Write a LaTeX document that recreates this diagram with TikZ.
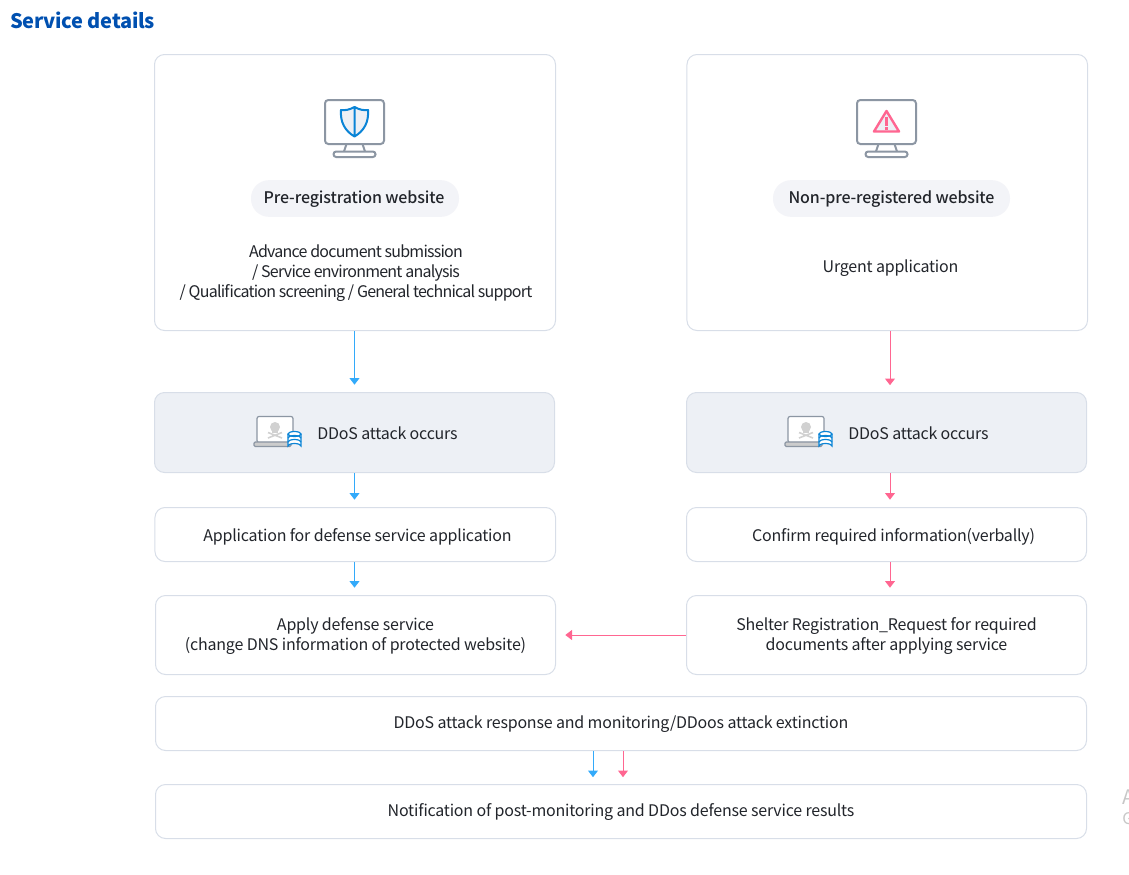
\documentclass[tikz,border=0pt]{standalone}
\usepackage{fontspec}
\setmainfont[LetterSpace=-1.3]{Noto Sans CJK KR}
\newfontfamily\tightfont[LetterSpace=-4.8]{Noto Sans CJK KR}
\newfontfamily\mediumfont[LetterSpace=-0.8]{Noto Sans CJK KR Medium}
\usetikzlibrary{arrows.meta}
\definecolor{inkcol}{RGB}{34,37,43}
\definecolor{framecol}{RGB}{216,222,232}
\definecolor{attackcol}{RGB}{237,240,245}
\definecolor{pillcol}{RGB}{243,244,248}
\definecolor{bluecol}{RGB}{51,170,250}
\definecolor{pinkcol}{RGB}{255,102,145}
\definecolor{titlecol}{RGB}{0,80,176}
\definecolor{iconcol}{RGB}{140,150,163}
\definecolor{shieldcol}{RGB}{10,132,214}
\tikzset{
  card/.style={draw=framecol,line width=0.75pt,rounded corners=7.5pt,fill=white,inner sep=0pt,text=inkcol,align=center,text depth=1pt,font=\fontsize{12}{15}\selectfont},
  attackcard/.style={card,fill=attackcol},
  pill/.style={fill=pillcol,rounded corners=13.5pt,inner sep=0pt,text=inkcol,text depth=1.5pt,font=\fontsize{12}{15}\mediumfont},
  plain/.style={inner sep=0pt,text=inkcol,align=center,font=\fontsize{12}{15}\selectfont},
  bluearrow/.style={draw=bluecol,line width=0.75pt,-{Triangle[length=5pt,width=7.5pt]},shorten >=5.5pt},
  pinkarrow/.style={draw=pinkcol,line width=0.75pt,-{Triangle[length=5pt,width=7.5pt]},shorten >=5.5pt},
  pics/monitor/.style={code={
    \draw[iconcol,line width=1.5pt,rounded corners=2.5pt] (-29.5,-22) rectangle (29.5,22);
    \draw[iconcol,line width=1.5pt] (-8,22) -- (-10.5,29.5) (8,22) -- (10.5,29.5);
    \draw[iconcol,line width=1.5pt,rounded corners=2pt,fill=white] (-21,29.5) rectangle (21,35);
  }},
  pics/laptop/.style={code={
    % screen and keyboard
    \draw[iconcol,line width=0.9pt,fill=white,rounded corners=1.5pt] (3,0) rectangle (39,26);
    \fill[black!18] (21,10.5) circle (5);
    \fill[black!18] (18,11) rectangle (24,16.5);
    \draw[black!18,line width=1.2pt] (14,16) -- (28,21.5) (28,16) -- (14,21.5);
    \draw[iconcol,line width=0.9pt,fill=black!20,rounded corners=1pt] (0,25.5) rectangle (37,30);
    % database
    \draw[shieldcol,line width=0.9pt,fill=white] (34,17.5) -- (34,29.5) arc[start angle=180,end angle=360,x radius=6.5,y radius=2.5] -- (47,17.5);
    \draw[shieldcol,line width=0.9pt,fill=white] (40.5,17.5) ellipse[x radius=6.5,y radius=2.5];
    \draw[shieldcol,line width=0.9pt] (34,21.5) arc[start angle=180,end angle=360,x radius=6.5,y radius=2.5];
    \draw[shieldcol,line width=0.9pt] (34,25.5) arc[start angle=180,end angle=360,x radius=6.5,y radius=2.5];
  }}
}
\begin{document}
\begin{tikzpicture}[x=0.75pt,y=0.75pt,yscale=-1,xscale=1]
\useasboundingbox (0,0) rectangle (1129,875);

% title
\node[anchor=west,inner sep=0pt,text=titlecol,font=\fontsize{15}{18}\bfseries] (title) at (10,20.5) {Service details};

% top cards
\node[card,minimum width=300.75pt,minimum height=207pt] (preCard) at (355,192.5) {};
\node[card,minimum width=300.4pt,minimum height=207pt] (nonCard) at (887.25,192.5) {};

\pic[yscale=-1] at (354.5,122) {monitor};
\pic[yscale=-1] at (886.5,122) {monitor};

% shield
\draw[shieldcol,line width=1.5pt,fill=attackcol,line join=round] (354.5,107) .. controls (349,110) and (345,110.5) .. (341,110) .. controls (340,122) and (345,131) .. (354.5,136.5) .. controls (364,131) and (369,122) .. (368,110) .. controls (364,110.5) and (360,110) .. (354.5,107) -- cycle (354.5,107) -- (354.5,136.5);

% warning sign
\draw[pinkcol,line width=1.8pt,fill=attackcol,line join=round] (886.5,111) -- (899,131.5) -- (874,131.5) -- cycle;
\fill[pinkcol] (885.3,117) rectangle (887.7,125.5);
\fill[pinkcol] (885.3,127) rectangle (887.7,129.5);

\node[pill,minimum width=156pt,minimum height=27.5pt] (prePill) at (355,198.5) {\kern-1.5pt Pre-registration website};
\node[pill,minimum width=177.75pt,minimum height=27.5pt] (nonPill) at (891.5,198.5) {Non-pre-registered website};

\node[plain,font=\fontsize{12}{15}\tightfont] (preText) at (356,273) {Advance document submission\\/ Service environment analysis\\/ Qualification screening / General technical support};
\node[plain] (nonText) at (890.5,268) {Urgent application};

% attack row
\node[attackcard,minimum width=300pt,minimum height=60pt] (attackL) at (354.5,432.5) {};
\node[attackcard,minimum width=300pt,minimum height=60pt] (attackR) at (886.5,432.5) {};
\pic[yscale=-1] at (254,416.5) {laptop};
\pic[yscale=-1] at (785,416.5) {laptop};
\node[plain,anchor=west] (attackLText) at (317,433) {DDoS attack occurs};
\node[plain,anchor=west] (attackRText) at (848,433) {DDoS attack occurs};

% steps
\node[card,minimum width=300.4pt,minimum height=40.5pt] (applyForm) at (355.25,534.5) {};
\node[plain] (applyFormText) at (357.5,536.5) {Application for defense service application};
\node[card,minimum width=300pt,minimum height=40.5pt] (confirmInfo) at (886.5,534.5) {};
\node[plain] (confirmInfoText) at (893.5,536.5) {Confirm required information(verbally)};
\node[card,minimum width=300pt,minimum height=59.25pt] (applyDef) at (355.5,635) {Apply defense service\\(change DNS information of protected website)};
\node[card,minimum width=300pt,minimum height=59.25pt] (shelter) at (886.5,635) {Shelter Registration\_Request for required\\documents after applying service};
\node[card,text depth=2.5pt,minimum width=698.25pt,minimum height=40.5pt] (response) at (621,723.5) {DDoS attack response and monitoring/DDoos attack extinction};
\node[card,text depth=2.5pt,minimum width=698.25pt,minimum height=40.5pt] (notice) at (621,811.5) {Notification of post-monitoring and DDos defense service results};

% cut off at the page edge
\node[anchor=west,inner sep=0pt,text=black!22,font=\fontsize{15}{18}\selectfont] (edgeA) at (1122,797) {A};
\node[anchor=west,inner sep=0pt,text=black!22,font=\fontsize{12}{15}\selectfont] (edgeG) at (1122,819) {G};

% arrows
\coordinate (blueFoot) at (593,784.5);
\coordinate (pinkFoot) at (623,784.5);
\draw[bluearrow] (preCard.south -| attackL) -- (attackL.north);
\draw[pinkarrow] (nonCard.south -| 890,0) -- (890,392.5);
\draw[bluearrow] (attackL.south) -- (attackL.south |- applyForm.north);
\draw[pinkarrow] (attackR.south -| 890,0) -- (confirmInfo.north -| 890,0);
\draw[bluearrow] (applyForm.south -| attackL) -- (applyDef.north -| attackL);
\draw[pinkarrow] (confirmInfo.south -| 890,0) -- (shelter.north -| 890,0);
\draw[pinkarrow,shorten >=7pt] (shelter.west) -- (applyDef.east);
\draw[bluearrow] (response.south -| blueFoot) -- (blueFoot);
\draw[pinkarrow] (response.south -| pinkFoot) -- (pinkFoot);
\end{tikzpicture}
\end{document}
